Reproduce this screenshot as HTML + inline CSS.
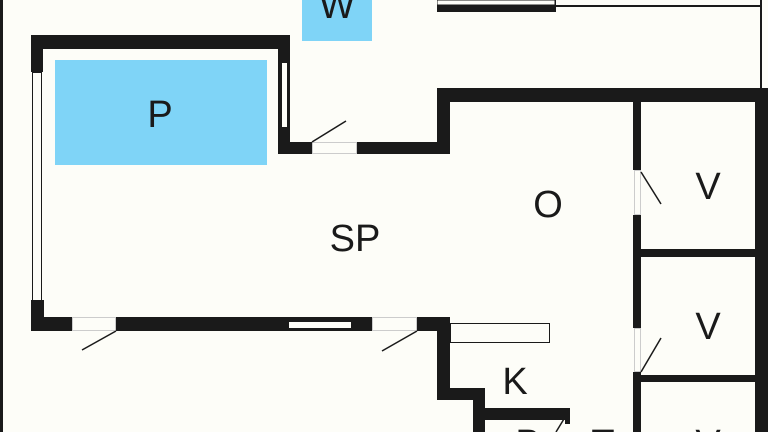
<!DOCTYPE html>
<html><head><meta charset="utf-8"><style>
html,body{margin:0;padding:0;background:#fdfdf8;width:768px;height:432px;overflow:hidden;}
svg{display:block;overflow:hidden;}
text{font-family:"Liberation Sans",sans-serif;font-size:38px;fill:#1a1a1a;text-anchor:middle;}
</style></head><body>
<svg width="768" height="432" viewBox="0 0 768 432" xmlns="http://www.w3.org/2000/svg">
<defs><clipPath id="c"><rect x="0" y="0" width="768" height="432"/></clipPath></defs>
<rect width="768" height="432" fill="#fdfdf8"/>
<rect x="55" y="60" width="212" height="105" fill="#7fd4f7"/>
<rect x="302" y="0" width="70" height="41" fill="#7fd4f7"/>
<g fill="#1a1a1a">
<rect x="0" y="0" width="3" height="432"/>
<rect x="31" y="35" width="259" height="14"/>
<rect x="31" y="35" width="12" height="37"/>
<rect x="31" y="300" width="13" height="31"/>
<rect x="31" y="317" width="41" height="14"/>
<rect x="116" y="317" width="256" height="14"/>
<rect x="417" y="317" width="33" height="14"/>
<rect x="278" y="35" width="12" height="119"/>
<rect x="278" y="142" width="34" height="12"/>
<rect x="357" y="142" width="93" height="12"/>
<rect x="437" y="88" width="13" height="66"/>
<rect x="437" y="88" width="331" height="14"/>
<rect x="755" y="88" width="13" height="344"/>
<rect x="437" y="0" width="119" height="12"/>
<rect x="556" y="5" width="206" height="2"/>
<rect x="760" y="0" width="2" height="90"/>
<rect x="633" y="102" width="8" height="68"/>
<rect x="633" y="215" width="8" height="113"/>
<rect x="633" y="372" width="8" height="60"/>
<rect x="633" y="249" width="135" height="8"/>
<rect x="633" y="375" width="135" height="7"/>
<rect x="437" y="317" width="13" height="83"/>
<rect x="437" y="388" width="48" height="12"/>
<rect x="473" y="388" width="12" height="44"/>
<rect x="473" y="408" width="97" height="12"/>
<rect x="565" y="408" width="5" height="16"/>
</g>
<g fill="#fdfdf8" stroke="#1a1a1a" stroke-width="1">
<rect x="32.5" y="72.5" width="9" height="228"/>
<rect x="281.5" y="62.5" width="6" height="65"/>
<rect x="288.5" y="321.5" width="63" height="7"/>
<rect x="450.5" y="323.5" width="99" height="19"/>
<rect x="437.5" y="0.5" width="117" height="4" stroke="none"/>
</g>
<g fill="#fdfdf8" stroke="#ccc" stroke-width="1">
<rect x="72.5" y="317.5" width="43" height="13"/>
<rect x="372.5" y="317.5" width="44" height="13"/>
<rect x="312.5" y="142.5" width="44" height="11"/>
<rect x="634.5" y="170.5" width="6" height="44"/>
<rect x="634.5" y="328.5" width="6" height="43"/>
</g>
<g stroke="#1a1a1a" stroke-width="1.5">
<line x1="116" y1="331" x2="82" y2="350"/>
<line x1="417" y1="331" x2="382" y2="351"/>
<line x1="312" y1="142" x2="346" y2="121"/>
<line x1="641" y1="172" x2="661" y2="204"/>
<line x1="641" y1="372" x2="661" y2="338"/>
<line x1="567" y1="414" x2="556" y2="432"/>
</g>
<text x="160" y="127">P</text>
<text x="337" y="18">W</text>
<text x="355" y="251">SP</text>
<text x="548" y="217">O</text>
<text x="708" y="199">V</text>
<text x="708" y="339">V</text>
<text x="515" y="394">K</text>
<g clip-path="url(#c)">
<text x="528" y="456">B</text>
<text x="603" y="456">T</text>
<text x="708" y="456">V</text>
</g>
</svg>
</body></html>
